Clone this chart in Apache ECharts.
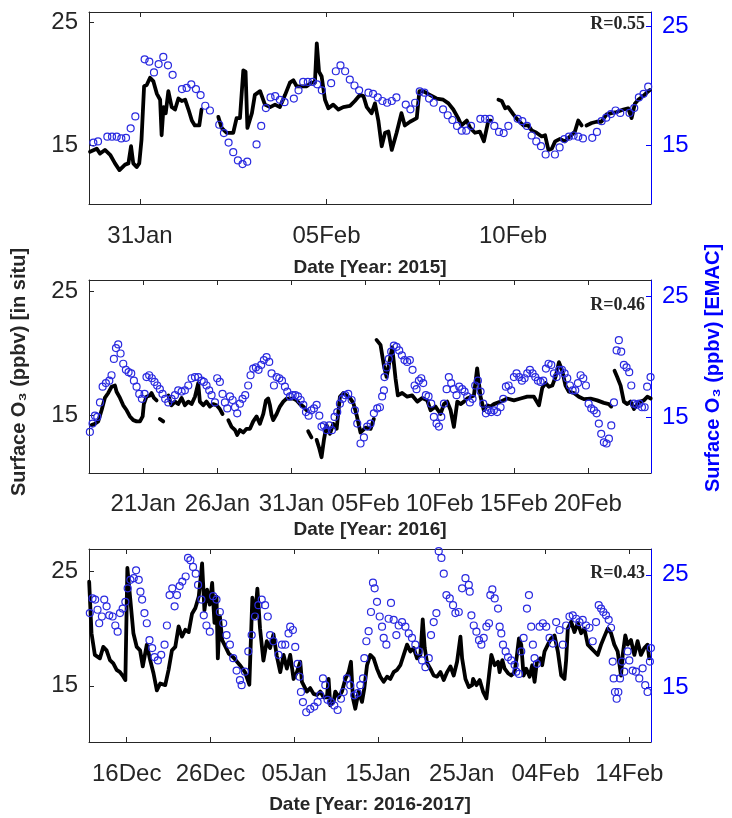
<!DOCTYPE html>
<html>
<head>
<meta charset="utf-8">
<script src="https://cdn.jsdelivr.net/npm/echarts@6/dist/echarts.min.js"></script>
<style>
html, body { margin: 0; padding: 0; background: #fff; }
#main { width: 732px; height: 818px; }
</style>
</head>
<body>
<div id="main"></div>
<script>
// x = days after the first labelled date of each panel, values in ppbv
// panel 1 : day 0 = 31 Jan 2015
var ticks2015 = [0, 5, 10];
var labels2015 = ['31Jan', '05Feb', '10Feb'];
var insitu2015 = [[-1.34,14.45],[-1.16,14.7],[-1.07,14.3],[-0.94,14.6],[-0.80,14.2],[-0.67,13.5],[-0.55,12.95],[-0.40,13.4],[-0.31,13.5],[-0.24,14.9],[-0.18,13.5],[-0.09,13.2],[-0.02,13.5],[0.04,15.4],[0.11,19.8],[0.18,19.9],[0.27,20.5],[0.36,20.2],[0.45,19.2],[0.54,18.7],[0.58,15.8],[0.63,18.1],[0.69,17.6],[0.76,19.4],[0.85,18.1],[0.94,17.9],[1.03,18.8],[1.12,18.6],[1.21,18.7],[1.30,17.9],[1.39,17.0],[1.47,16.6],[1.59,16.6],[1.65,17.9],[1.8,null],
  [2.10,17.3],[2.19,16.4],[2.32,16.0],[2.50,16.0],[2.59,17.2],[2.68,17.2],[2.77,21.1],[2.83,21.0],[2.88,16.4],[3.00,17.6],[3.08,19.1],[3.22,19.4],[3.35,18.3],[3.49,18.1],[3.62,18.3],[3.75,18.1],[3.89,19.1],[4.02,20.1],[4.11,20.3],[4.20,19.8],[4.33,19.8],[4.47,19.8],[4.60,20.1],[4.69,20.1],[4.74,23.3],[4.80,21.0],[4.87,20.6],[4.96,18.7],[5.05,18.0],[5.18,18.3],[5.32,17.9],[5.45,18.1],[5.63,18.2],[5.76,18.6],[5.90,19.1],[5.99,19.0],[6.08,18.1],[6.21,17.6],[6.30,18.4],[6.39,17.0],[6.48,14.9],[6.57,16.0],[6.66,16.1],[6.75,14.6],[6.88,16.0],[7.01,17.6],[7.10,16.6],[7.24,16.9],[7.42,17.2],[7.49,19.4],[7.59,19.4],[7.77,19.1],[7.95,18.8],[8.13,18.7],[8.27,18.4],[8.40,17.9],[8.53,17.2],[8.62,16.6],[8.76,17.0],[8.85,16.4],[8.98,16.0],[9.11,16.1],[9.22,15.3],[9.34,17.0],[9.41,17.0],[9.5,null],
  [9.61,18.7],[9.70,18.6],[9.79,18.0],[9.87,18.1],[10.01,17.5],[10.14,17.0],[10.28,16.6],[10.41,16.6],[10.50,16.2],[10.63,16.0],[10.77,15.7],[10.86,15.8],[10.95,14.6],[11.04,14.7],[11.13,15.3],[11.26,15.5],[11.39,15.3],[11.53,15.7],[11.66,16.1],[11.75,17.0],[11.84,16.6],[11.9,null],
  [11.97,16.6],[12.11,16.8],[12.24,16.9],[12.37,16.9],[12.51,17.5],[12.64,17.6],[12.78,17.7],[12.96,17.9],[13.09,18.0],[13.18,17.2],[13.27,18.4],[13.36,18.7],[13.49,19.0],[13.63,19.4],[13.67,19.5]];
var emac2015 = [[-1.25,15.2],[-1.125,15.3],[-0.875,15.7],[-0.75,15.7],[-0.625,15.7],[-0.5,15.55],[-0.375,15.6],[-0.25,16.4],[-0.125,17.4],[0.125,22.2],[0.25,22.0],[0.375,21.1],[0.5,21.8],[0.625,22.4],[0.75,21.7],[0.875,20.9],[1.125,19.7],[1.25,19.8],[1.375,20.1],[1.5,19.7],[1.625,19.2],[1.75,18.3],[1.875,17.9],[2.125,16.7],[2.25,16.0],[2.375,15.2],[2.5,14.4],[2.625,13.7],[2.75,13.4],[2.875,13.6],[3.125,15.05],[3.25,16.6],[3.375,18.1],[3.5,19.0],[3.625,19.1],[3.75,18.8],[3.875,18.6],[4.125,18.9],[4.25,19.6],[4.375,20.3],[4.5,20.3],[4.625,20.3],[4.75,20.1],[4.875,19.6],[5.125,20.2],[5.25,21.2],[5.375,21.7],[5.5,21.2],[5.625,20.5],[5.75,20.0],[5.875,19.6],[6.125,19.4],[6.25,19.3],[6.375,19.0],[6.5,18.7],[6.625,18.55],[6.75,18.7],[6.875,19.0],[7.125,18.4],[7.25,18.0],[7.375,18.55],[7.5,19.5],[7.625,19.4],[7.75,18.9],[7.875,18.55],[8.125,18.0],[8.25,17.5],[8.375,17.1],[8.5,16.6],[8.625,16.2],[8.75,16.2],[8.875,16.6],[9.125,17.2],[9.25,17.2],[9.375,17.2],[9.5,16.6],[9.625,16.1],[9.75,16.0],[9.875,16.6],[10.125,17.2],[10.25,17.0],[10.375,16.6],[10.5,15.8],[10.625,15.3],[10.75,14.9],[10.875,14.2],[11.125,14.2],[11.25,14.8],[11.375,15.5],[11.5,15.7],[11.625,15.8],[11.75,15.7],[11.875,15.55],[12.125,15.6],[12.25,16.1],[12.375,17.0],[12.5,17.3],[12.625,17.6],[12.75,17.9],[12.875,17.7],[13.125,17.7],[13.25,18.1],[13.375,19.0],[13.5,19.3],[13.625,19.9]];

// panel 2 : day 0 = 21 Jan 2016
var ticks2016 = [0, 5, 10, 15, 20, 25, 30];
var labels2016 = ['21Jan', '26Jan', '31Jan', '05Feb', '10Feb', '15Feb', '20Feb'];
var insitu2016 = [[-3.49,14.2],[-3.26,14.3],[-3.04,14.5],[-2.81,15.4],[-2.59,16.4],[-2.36,16.8],[-2.14,17.3],[-1.91,17.4],[-1.80,16.9],[-1.57,16.4],[-1.35,15.8],[-1.12,15.4],[-0.90,14.9],[-0.67,14.6],[-0.45,14.5],[-0.22,14.5],[-0.04,14.9],[0.04,15.9],[0.22,16.5],[0.45,16.6],[0.56,16.8],[0.72,16.4],[0.90,16.2],[1.0,null],[1.12,14.7],[1.35,14.5],[1.5,null],
  [1.69,16.6],[1.91,15.8],[2.14,16.1],[2.36,15.9],[2.59,16.4],[2.81,15.8],[3.04,16.1],[3.26,15.9],[3.49,16.5],[3.71,17.6],[3.82,16.1],[4.05,15.8],[4.27,16.1],[4.50,15.7],[4.72,15.9],[4.95,15.8],[5.17,15.5],[5.35,15.1],[5.5,null],
  [5.74,14.6],[5.96,14.05],[6.19,13.8],[6.34,13.4],[6.52,13.8],[6.75,13.6],[6.97,13.9],[7.20,13.9],[7.42,14.5],[7.65,14.9],[7.87,14.3],[8.10,15.1],[8.28,16.2],[8.43,16.35],[8.55,15.8],[8.66,15.0],[8.77,14.6],[9.00,15.1],[9.22,15.7],[9.45,16.1],[9.67,16.35],[9.90,16.35],[10.12,16.35],[10.35,16.2],[10.57,15.9],[10.80,15.7],[11.02,15.4],[11.08,null],[11.13,13.7],[11.35,13.2],[11.5,null],
  [11.70,13.0],[11.88,12.3],[12.03,11.6],[12.19,13.0],[12.37,14.2],[12.60,13.5],[12.82,14.3],[13.05,13.9],[13.27,16.5],[13.50,16.8],[13.72,16.6],[13.95,16.4],[14.17,16.0],[14.40,15.0],[14.66,13.6],[15.00,14.0],[15.34,13.9],[15.56,14.7],[15.65,null],
  [15.74,21.1],[16.01,20.7],[16.24,19.0],[16.42,18.1],[16.64,19.5],[16.80,20.5],[17.02,18.0],[17.18,16.6],[17.47,16.8],[17.81,16.5],[18.15,16.6],[18.49,16.1],[18.82,16.4],[19.16,16.2],[19.39,15.4],[19.72,15.7],[20.06,15.1],[20.29,15.9],[20.51,16.1],[20.74,15.4],[20.96,14.05],[21.19,16.1],[21.41,15.9],[21.64,16.1],[21.86,16.35],[22.31,16.6],[22.53,18.8],[22.76,16.5],[22.98,15.4],[23.21,15.8],[23.43,15.7],[23.66,15.9],[24.11,16.1],[24.56,16.35],[25.01,16.2],[25.46,16.35],[25.91,16.5],[26.36,16.5],[26.70,15.8],[26.92,17.2],[27.15,17.6],[27.37,17.3],[27.60,17.4],[27.82,18.1],[28.05,19.3],[28.27,18.6],[28.49,17.4],[28.72,16.9],[29.06,16.8],[29.39,16.5],[29.73,16.3],[30.18,16.35],[30.63,16.2],[31.08,16.0],[31.42,15.9],[31.58,15.7],[31.7,null],
  [31.80,18.6],[31.98,18.1],[32.21,17.4],[32.43,16.1],[32.66,15.9],[32.88,16.1],[33.11,15.5],[33.33,15.9],[33.56,16.1],[33.78,16.2],[34.01,16.5],[34.24,16.35]];
var emac2016 = [[-3.6,13.76],[-3.42,14.45],[-3.26,15.1],[-3.1,15.0],[-2.92,16.2],[-2.74,17.5],[-2.52,17.8],[-2.29,18.0],[-2.14,18.45],[-1.98,19.8],[-1.84,20.7],[-1.69,21.0],[-1.53,20.25],[-1.35,19.4],[-1.17,18.9],[-0.99,18.7],[-0.81,18.6],[-0.63,18.0],[-0.45,17.5],[-0.27,16.9],[-0.09,16.5],[0.09,16.9],[0.22,18.3],[0.4,18.45],[0.58,18.2],[0.76,17.9],[0.94,17.6],[1.12,17.3],[1.3,16.9],[1.48,16.5],[1.69,16.2],[1.91,16.5],[2.14,16.8],[2.36,17.2],[2.59,17.1],[2.81,17.2],[3.04,17.6],[3.26,18.2],[3.49,18.3],[3.71,18.3],[3.94,18.0],[4.09,17.9],[4.27,17.6],[4.45,17.2],[4.61,16.8],[4.84,16.2],[4.99,18.2],[5.17,17.9],[5.35,16.9],[5.51,16.2],[5.67,15.7],[5.85,16.7],[6.03,16.4],[6.19,15.8],[6.34,15.3],[6.52,16.1],[6.7,16.5],[6.88,16.8],[7.08,17.6],[7.24,18.45],[7.42,19.0],[7.6,19.1],[7.78,18.9],[7.96,19.3],[8.14,19.7],[8.32,19.95],[8.5,19.55],[8.66,18.6],[8.82,17.6],[9.0,18.3],[9.18,18.2],[9.36,18.0],[9.56,17.5],[9.72,17.1],[9.9,16.7],[10.08,16.8],[10.26,16.8],[10.44,16.7],[10.62,16.4],[10.8,16.0],[10.98,15.4],[11.16,15.1],[11.34,15.55],[11.52,15.7],[11.7,16.0],[11.88,15.1],[12.03,14.2],[12.19,14.3],[12.37,13.9],[12.55,14.3],[12.73,13.9],[12.91,15.0],[13.09,15.4],[13.27,16.1],[13.45,16.5],[13.63,16.8],[13.83,16.9],[14.06,16.4],[14.28,15.55],[14.44,14.45],
  [14.66,12.8],[14.89,13.3],[15.11,14.2],[15.34,14.45],[15.56,15.3],[15.79,15.7],[15.97,15.8],[16.12,16.7],[16.24,17.2],[16.28,18.3],[16.42,19.1],[16.57,19.8],[16.73,20.4],[16.91,20.9],[17.09,20.8],[17.27,20.5],[17.45,20.1],[17.63,19.7],[17.81,19.55],[17.99,19.7],[18.17,18.9],[18.31,17.6],[18.44,17.3],[18.6,18.0],[18.76,18.2],[18.89,17.8],[19.07,16.8],[19.25,16.7],[19.43,16.1],[19.61,15.0],[19.79,14.45],[19.95,14.2],[20.11,15.0],[20.29,16.1],[20.47,17.3],[20.62,18.3],[20.78,17.8],[20.96,17.3],[21.14,16.8],[21.32,17.5],[21.52,17.3],[21.68,17.1],[21.86,16.7],[22.04,16.2],[22.22,16.5],[22.4,17.6],[22.58,18.0],[22.76,17.1],[22.94,16.1],[23.12,15.3],[23.3,15.55],[23.48,15.4],[23.66,15.55],[23.88,15.4],[24.11,15.8],[24.29,16.5],[24.47,17.5],[24.65,17.6],[24.83,17.2],[25.01,18.3],[25.19,18.6],[25.37,18.3],[25.55,18.0],[25.73,18.2],[25.91,18.6],[26.09,18.9],[26.27,18.6],[26.45,18.3],[26.63,18.0],[26.81,17.9],[26.99,18.0],[27.17,19.0],[27.35,19.4],[27.53,19.3],[27.71,18.6],[27.89,18.3],[28.07,18.9],[28.25,18.9],[28.43,18.6],[28.61,18.2],[28.79,17.6],[28.97,17.2],[29.15,17.2],[29.33,17.8],[29.51,18.45],[29.69,18.2],[29.87,17.6],[30.05,16.1],[30.23,15.7],[30.41,15.55],[30.59,15.3],[30.74,14.45],[30.9,13.6],[31.08,12.9],[31.26,12.8],[31.42,13.2],[31.58,14.3],[31.76,16.2],[31.94,20.5],[32.09,21.35],[32.25,20.4],[32.43,19.3],[32.61,19.1],[32.79,18.7],[32.93,17.6],[33.11,16.1],[33.29,16.0],[33.47,16.1],[33.65,15.8],[33.83,15.8],[34.0,17.5],[34.23,18.3]];

// panel 3 : day 0 = 16 Dec 2016
var ticks1617 = [0, 10, 20, 30, 40, 50, 60];
var labels1617 = ['16Dec', '26Dec', '05Jan', '15Jan', '25Jan', '04Feb', '14Feb'];
var insitu1617 = [[-4.48,24.1],[-4.20,19.6],[-3.80,17.7],[-3.20,17.4],[-2.80,18.4],[-2.40,18.1],[-2.00,17.25],[-1.60,16.96],[-1.20,16.4],[-0.80,16.2],[-0.40,15.8],[-0.16,15.5],[0.08,25.3],[0.40,22.8],[0.80,19.6],[1.20,18.4],[1.60,18.1],[1.92,16.7],[2.40,18.6],[2.80,17.25],[3.20,16.1],[3.60,14.6],[4.00,15.2],[4.60,15.06],[5.00,16.4],[5.40,18.1],[5.80,18.4],[6.20,20.2],[6.60,19.3],[7.00,19.9],[7.40,19.7],[7.80,21.3],[8.20,21.8],[8.60,22.8],[9.00,25.7],[9.28,21.6],[9.60,23.4],[9.92,22.1],[10.20,24.0],[10.48,20.5],[10.72,22.8],[10.88,17.4],[11.12,21.1],[11.40,19.0],[11.80,18.4],[12.20,17.8],[12.72,17.5],[13.52,16.8],[14.12,16.2],[14.64,15.1],[15.00,22.7],[15.32,21.0],[15.60,23.5],[15.92,20.0],[16.32,17.2],[16.72,18.9],[17.12,18.3],[17.52,19.5],[17.92,17.6],[18.33,16.2],[18.73,17.7],[19.12,16.5],[19.52,17.7],[19.92,15.6],[20.32,16.2],[20.72,17.1],[20.92,15.35],[21.12,15.06],[21.51,14.5],[21.91,14.8],[22.31,14.3],[22.71,14.2],[23.11,14.5],[23.51,14.0],[23.90,14.0],[24.10,15.6],[24.30,13.3],[24.70,13.6],[24.90,14.5],[25.30,14.0],[25.70,14.5],[26.10,15.6],[26.49,16.2],[26.77,17.1],[27.01,13.9],[27.29,13.0],[27.69,14.5],[28.09,13.6],[28.37,14.8],[28.69,16.8],[29.08,17.7],[29.48,17.4],[29.88,16.5],[30.28,15.8],[30.68,15.35],[31.08,15.8],[31.47,15.6],[31.87,16.2],[32.27,16.4],[32.67,16.8],[33.07,17.7],[33.47,18.6],[33.86,18.0],[34.26,18.3],[34.66,17.4],[35.06,17.7],[35.34,20.8],[35.58,18.3],[35.86,17.0],[36.25,16.5],[36.65,15.9],[37.05,15.8],[37.45,16.2],[37.85,15.5],[38.25,16.2],[38.65,16.7],[39.04,15.9],[39.44,17.1],[39.84,19.3],[40.04,17.4],[40.44,15.6],[40.84,14.9],[41.24,15.06],[41.35,15.6],[41.75,15.06],[42.14,15.5],[42.54,14.5],[42.94,13.9],[43.25,15.9],[43.53,17.7],[43.93,16.8],[44.33,17.1],[44.52,16.2],[44.84,17.25],[45.12,16.5],[45.52,16.1],[45.91,15.9],[46.31,16.2],[46.59,17.7],[46.83,19.15],[47.10,18.6],[47.38,15.9],[47.70,16.5],[48.10,15.8],[48.41,16.8],[48.69,15.35],[48.97,17.1],[49.37,17.4],[49.60,16.8],[49.88,18.0],[50.28,18.6],[50.67,19.15],[51.07,19.4],[51.47,18.0],[51.87,15.9],[52.26,15.6],[52.46,17.25],[52.66,20.0],[53.06,20.6],[53.45,19.7],[53.85,20.5],[54.25,19.6],[54.64,20.0],[55.04,18.6],[55.44,18.3],[55.83,18.0],[56.23,17.7],[56.63,18.6],[57.02,19.3],[57.42,20.0],[57.82,19.6],[58.21,18.6],[58.61,18.0],[59.01,15.9],[59.21,17.7],[59.52,19.4],[59.80,18.6],[60.20,19.0],[60.60,17.7],[60.99,18.9],[61.39,17.7],[61.79,18.3],[62.18,18.6],[62.38,17.4]];
var emac1617 = [[-4.4,21.6],[-4.08,22.9],[-3.76,22.8],[-3.48,21.9],[-3.28,20.7],[-2.96,21.3],[-2.68,22.8],[-2.4,22.2],[-2.08,21.4],[-1.68,21.3],[-1.36,20.5],[-1.08,19.95],[-0.8,21.6],[-0.48,22.0],[-0.16,22.6],[0.12,23.8],[0.44,24.55],[0.84,24.7],[1.12,25.4],[1.44,24.55],[1.64,23.5],[1.84,22.8],[2.12,21.6],[2.4,20.7],[2.72,19.2],[3.04,18.5],[3.32,17.7],[3.72,17.4],[4.12,17.9],[4.52,18.8],[4.8,20.5],[5.12,23.2],[5.44,23.8],[5.72,22.2],[6.0,23.2],[6.32,24.0],[6.64,24.4],[7.04,24.85],[7.32,26.5],[7.6,26.3],[7.92,25.7],[8.24,25.1],[8.52,24.1],[8.92,22.8],[9.2,21.4],[9.52,20.5],[9.92,19.95],[10.32,23.1],[10.72,22.8],[11.12,21.7],[11.52,20.7],[11.92,19.65],[12.32,18.8],[12.72,17.6],[13.12,16.5],[13.52,15.65],[13.72,15.2],[14.12,16.4],[14.52,18.2],[14.92,19.65],[15.32,21.3],[15.72,22.3],[16.12,22.8],[16.52,22.3],[16.84,21.3],[17.12,19.65],[17.52,19.1],[18.12,17.9],
  [18.53,18.8],[18.93,18.8],[19.32,19.8],[19.52,20.4],[19.84,20.1],[20.12,18.6],[20.4,17.1],[20.64,15.95],[20.8,14.6],[21.04,13.7],[21.43,12.8],[21.91,13.1],[22.39,13.3],[22.79,13.7],[23.11,14.3],[23.43,15.8],[23.71,15.2],[23.98,13.9],[24.38,13.7],[24.78,13.4],[25.18,13.0],[25.58,14.0],[25.9,14.6],[26.29,15.8],[26.69,15.2],[27.17,14.3],[27.57,14.5],[27.89,15.2],[28.21,15.8],[28.37,17.6],[28.61,19.1],[28.88,20.0],[29.16,21.7],[29.4,24.3],[29.6,23.8],[29.88,22.6],[30.2,21.3],[30.48,20.4],[30.68,19.4],[31.0,18.8],[31.27,21.1],[31.55,22.5],[31.87,21.0],[32.19,19.65],[32.47,20.5],[32.87,20.8],[33.27,20.4],[33.67,19.8],[34.06,19.4],[34.46,18.8],[34.86,18.2],[35.26,17.4],[35.66,16.8],[36.06,17.6],[36.33,19.65],[36.65,20.8],[36.97,21.6],[37.25,27.1],[37.57,26.5],[37.85,25.1],[38.17,23.2],[38.57,22.9],[38.96,22.3],[39.24,21.6],[39.64,21.7],[40.04,23.8],[40.44,24.7],[40.84,24.1],
  [40.95,23.5],[41.15,21.4],[41.43,20.5],[41.75,19.95],[42.06,19.2],[42.34,18.8],[42.62,19.4],[42.94,20.4],[43.25,20.7],[43.41,23.2],[43.65,23.7],[43.93,22.9],[44.33,22.0],[44.52,20.4],[44.72,19.8],[44.92,18.8],[45.24,18.2],[45.52,17.7],[45.91,17.4],[46.31,17.0],[46.51,16.4],[46.83,16.2],[47.1,18.2],[47.38,19.4],[47.78,22.0],[48.02,23.2],[48.29,20.4],[48.49,18.8],[48.69,17.6],[48.97,17.1],[49.29,20.4],[49.68,20.7],[50.08,20.4],[50.48,19.4],[50.87,18.9],[51.27,20.8],[51.67,20.1],[52.06,18.8],[52.46,20.5],[52.86,21.3],[53.25,21.4],[53.65,21.1],[54.05,20.8],[54.44,21.0],[54.84,20.5],[55.24,20.3],[55.63,19.1],[56.03,20.8],[56.35,22.3],[56.63,22.0],[56.9,21.7],[57.22,21.4],[57.54,21.0],[57.82,20.3],[58.02,17.3],[58.13,15.8],[58.29,14.6],[58.49,14.0],[58.69,14.6],[58.89,15.8],[59.13,17.3],[59.4,16.4],[59.8,18.2],[60.0,17.4],[60.4,16.5],[60.79,16.4],[61.19,15.8],[61.59,16.7],[61.9,15.2],[62.18,14.6],[62.46,17.3],[62.58,18.5]];

var yTicks = [15, 25];
var rValues = ['R=0.55', 'R=0.46', 'R=0.43'];

var GRAY = '#262626';
var BLUE = '#0000ff';
var SANS = '"Liberation Sans", Arial, sans-serif';

var panels = [
  { top: 12, height: 192, xMin: -1.367, xMax: 13.70, ticks: ticks2015, labels: labels2015,
    xName: 'Date [Year: 2015]', nameGap: 54, margin: 20, rY: 24,
    yL: [10.18, 25.87], yR: [10.04, 26.18], insitu: insitu2015, emac: emac2015 },
  { top: 280, height: 193, xMin: -3.66, xMax: 34.26, ticks: ticks2016, labels: labels2016,
    xName: 'Date [Year: 2016]', nameGap: 47, margin: 19, rY: 305,
    yL: [10.32, 25.95], yR: [10.36, 26.33], insitu: insitu2016, emac: emac2016 },
  { top: 549, height: 193, xMin: -4.50, xMax: 62.59, ticks: ticks1617, labels: labels1617,
    xName: 'Date [Year: 2016-2017]', nameGap: 53, margin: 20, rY: 573,
    yL: [10.09, 26.96], yR: [10.16, 27.29], insitu: insitu1617, emac: emac1617 }
];

var grids = [], xAxes = [], yAxes = [], series = [], graphics = [];

panels.forEach(function (p, i) {
  grids.push({ left: 89, width: 562, top: p.top, height: p.height });

  function fmt(v) {
    for (var k = 0; k < p.ticks.length; k++) {
      if (Math.abs(p.ticks[k] - v) < 1e-6) return p.labels[k];
    }
    return '';
  }
  // bottom axis with labels
  xAxes.push({
    type: 'value', gridIndex: i, position: 'bottom', min: p.xMin, max: p.xMax,
    axisLine: { show: true, onZero: false, lineStyle: { color: GRAY, width: 1 } },
    axisTick: { show: true, inside: true, length: 5, customValues: p.ticks, lineStyle: { color: GRAY } },
    axisLabel: { customValues: p.ticks, formatter: fmt, color: GRAY, fontSize: 24, fontFamily: SANS, margin: p.margin },
    splitLine: { show: false },
    name: p.xName, nameLocation: 'middle', nameGap: p.nameGap,
    nameTextStyle: { color: GRAY, fontSize: 19, fontWeight: 'bold', fontFamily: SANS }
  });
  // top axis, ticks only (box)
  xAxes.push({
    type: 'value', gridIndex: i, position: 'top', min: p.xMin, max: p.xMax,
    axisLine: { show: true, onZero: false, lineStyle: { color: GRAY, width: 1 } },
    axisTick: { show: true, inside: true, length: 5, customValues: p.ticks, lineStyle: { color: GRAY } },
    axisLabel: { show: false },
    splitLine: { show: false }
  });
  yAxes.push({
    type: 'value', gridIndex: i, position: 'left', min: p.yL[0], max: p.yL[1],
    axisLine: { show: true, onZero: false, lineStyle: { color: GRAY, width: 1 } },
    axisTick: { show: true, inside: true, length: 5, customValues: yTicks, lineStyle: { color: GRAY } },
    axisLabel: { customValues: yTicks, color: GRAY, fontSize: 24, fontFamily: SANS, margin: 11 },
    splitLine: { show: false }
  });
  yAxes.push({
    type: 'value', gridIndex: i, position: 'right', min: p.yR[0], max: p.yR[1],
    axisLine: { show: true, onZero: false, lineStyle: { color: BLUE, width: 1 } },
    axisTick: { show: true, inside: true, length: 5, customValues: yTicks, lineStyle: { color: BLUE } },
    axisLabel: { customValues: yTicks, color: BLUE, fontSize: 24, fontFamily: SANS, margin: 11 },
    splitLine: { show: false }
  });

  series.push({
    name: 'in situ', type: 'line', xAxisIndex: 2 * i, yAxisIndex: 2 * i,
    data: p.insitu, showSymbol: false, symbol: 'none', connectNulls: false,
    lineStyle: { color: '#000', width: 3.8, join: 'round', cap: 'round' },
    z: 2, animation: false
  });
  series.push({
    name: 'EMAC', type: 'scatter', xAxisIndex: 2 * i, yAxisIndex: 2 * i + 1,
    data: p.emac, symbol: 'circle', symbolSize: 7,
    itemStyle: { color: 'rgba(0,0,0,0)', borderColor: '#2a2ae0', borderWidth: 1.2, opacity: 1 },
    z: 3, animation: false
  });

  graphics.push({
    type: 'text', x: 645, y: p.rY, z: 10,
    style: { text: rValues[i], align: 'right', verticalAlign: 'middle', fill: GRAY,
      fontSize: 18, fontWeight: 'bold', fontFamily: '"Liberation Serif", "Times New Roman", serif' }
  });
});

// shared y-axis titles
graphics.push({
  type: 'text', x: 19, y: 372, rotation: Math.PI / 2,
  style: { text: 'Surface O\u2083 (ppbv) [in situ]', align: 'center', verticalAlign: 'middle',
    fill: GRAY, fontSize: 20, fontWeight: 'bold', fontFamily: SANS }
});
graphics.push({
  type: 'text', x: 713, y: 368, rotation: Math.PI / 2,
  style: { text: 'Surface O\u2083 (ppbv) [EMAC]', align: 'center', verticalAlign: 'middle',
    fill: BLUE, fontSize: 20, fontWeight: 'bold', fontFamily: SANS }
});

var myChart = echarts.init(document.getElementById('main'));
myChart.setOption({
  backgroundColor: '#fff',
  animation: false,
  grid: grids,
  xAxis: xAxes,
  yAxis: yAxes,
  series: series,
  graphic: graphics
});
</script>
</body>
</html>
